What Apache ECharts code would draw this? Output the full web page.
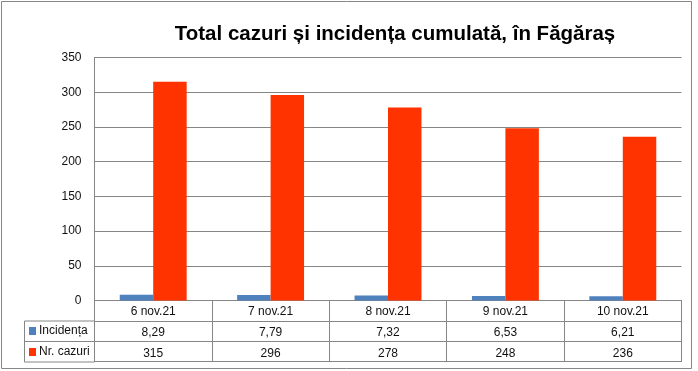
<!DOCTYPE html>
<html><head><meta charset="utf-8">
<script src="https://cdn.jsdelivr.net/npm/echarts@6/dist/echarts.min.js"></script>
<style>html,body{margin:0;padding:0;background:#fff}#c{width:698px;height:371px}</style>
</head><body><div id="c"></div>
<script>
const titleText = 'Total cazuri și incidența cumulată, în Făgăraș';
const categories = ['6 nov.21', '7 nov.21', '8 nov.21', '9 nov.21', '10 nov.21'];
const seriesNames = ['Incidența', 'Nr. cazuri'];
const incidenta = [8.29, 7.79, 7.32, 6.53, 6.21];
const nrCazuri = [315, 296, 278, 248, 236];
const yTicks = [0, 50, 100, 150, 200, 250, 300, 350];

const FONT = 'Liberation Sans';
const GRAY = '#868686';
const TXT = '#111';
const fmtComma = v => v.toFixed(2).replace('.', ',');

const chart = echarts.init(document.getElementById('c'), null, {renderer: 'canvas'});
const gridL = 94.5, gridR = 681.5, gridT = 57.5, gridB = 300.5;
const tableAxis = (data, offset) => ({
  type: 'category', data: data, position: 'bottom', offset: offset,
  axisLine: {show: true, lineStyle: {color: GRAY, width: 1}},
  axisTick: {show: false},
  axisLabel: {show: true, color: TXT, fontFamily: FONT, fontSize: 12, margin: 6, interval: 0}
});
chart.setOption({
  animation: false,
  title: {
    text: titleText, left: 390, top: 19, textAlign: 'center',
    textStyle: {fontFamily: FONT, fontWeight: 'bold', fontSize: 20.5, color: '#000'}
  },
  grid: {left: gridL, right: 698 - gridR, top: gridT, bottom: 371 - gridB, containLabel: false},
  xAxis: [
    {
      type: 'category', data: categories, position: 'bottom',
      axisLine: {show: true, lineStyle: {color: GRAY, width: 1}},
      axisTick: {show: true, alignWithLabel: false, inside: false, length: 61, lineStyle: {color: GRAY}},
      axisLabel: {color: TXT, fontFamily: FONT, fontSize: 12, margin: 5, interval: 0}
    },
    tableAxis(incidenta.map(fmtComma), 20.5),
    tableAxis(nrCazuri.map(String), 41),
    {type: 'category', data: categories, position: 'bottom', offset: 61,
     axisLine: {show: true, lineStyle: {color: GRAY}}, axisTick: {show: false}, axisLabel: {show: false}}
  ],
  yAxis: {
    type: 'value', min: yTicks[0], max: yTicks[yTicks.length - 1], interval: 50,
    axisLine: {show: true, lineStyle: {color: GRAY}},
    axisTick: {show: false},
    splitLine: {show: true, lineStyle: {color: GRAY, width: 1}},
    axisLabel: {color: TXT, fontFamily: FONT, fontSize: 12, margin: 13}
  },
  series: [
    {name: seriesNames[0], type: 'bar', data: incidenta, itemStyle: {color: '#4F81BD'},
     barWidth: '28.5%', barGap: '0%'},
    {name: seriesNames[1], type: 'bar', data: nrCazuri, itemStyle: {color: '#FF3300'},
     barWidth: '28.5%', barGap: '0%'}
  ],
  graphic: [
    {type: 'rect', shape: {x: 1.5, y: 1.5, width: 690, height: 367}, silent: true,
     style: {fill: 'none', stroke: GRAY, lineWidth: 1}, z: -1},
    {type: 'rect', shape: {x: 24.5, y: 321, width: 70, height: 41}, silent: true,
     style: {fill: 'none', stroke: GRAY, lineWidth: 1}},
    {type: 'line', shape: {x1: 24.5, y1: 341.5, x2: 94.5, y2: 341.5}, silent: true,
     style: {stroke: GRAY, lineWidth: 1}},
    {type: 'line', shape: {x1: 94.5, y1: 300, x2: 94.5, y2: 362}, silent: true,
     style: {stroke: GRAY, lineWidth: 1}},
    {type: 'rect', shape: {x: 29, y: 327, width: 7, height: 8}, style: {fill: '#4F81BD'}},
    {type: 'text', x: 39, y: 331, style: {text: seriesNames[0], fontFamily: FONT, fontSize: 12, fill: TXT, textVerticalAlign: 'middle'}},
    {type: 'rect', shape: {x: 29, y: 348, width: 7, height: 8}, style: {fill: '#FF3300'}},
    {type: 'text', x: 39, y: 352, style: {text: seriesNames[1], fontFamily: FONT, fontSize: 12, fill: TXT, textVerticalAlign: 'middle'}}
  ]
});
</script></body></html>
